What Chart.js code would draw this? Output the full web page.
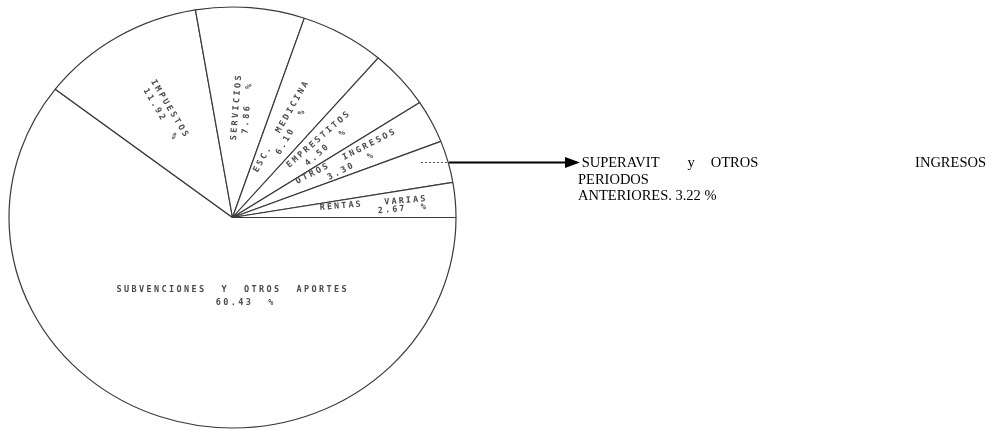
<!DOCTYPE html>
<html>
<head>
<meta charset="utf-8">
<script src="https://cdn.jsdelivr.net/npm/chart.js@4.4.0/dist/chart.umd.min.js"></script>
<style>
  html, body { margin: 0; padding: 0; background: #fff; }
  #wrap { position: relative; width: 992px; height: 432px; overflow: hidden; }
  #c { position: absolute; left: 0; top: 0; }
  #note {
    position: absolute; left: 578px; top: 155px; width: 408px;
    font-family: "Liberation Serif", "Times New Roman", serif;
    font-size: 14.5px; line-height: 16.5px; color: #000;
  }
  #note .l1 { display: flex; justify-content: space-between; }
  #note .gap1 { display: inline-block; width: 28px; }
  #note .gap2 { display: inline-block; width: 16px; }
</style>
</head>
<body>
<div id="wrap">
  <canvas id="c" width="992" height="432"></canvas>
  <div id="note"></div>
</div>
<script>
// Sources of income, clockwise from 3 o'clock
const categories = [
  'SUBVENCIONES Y OTROS APORTES',
  'IMPUESTOS',
  'SERVICIOS',
  'ESC. MEDICINA',
  'EMPRESTITOS',
  'OTROS INGRESOS',
  'SUPERAVIT y OTROS INGRESOS PERIODOS ANTERIORES',
  'RENTAS VARIAS'
];
const shares = [60.43, 11.92, 7.86, 6.10, 4.50, 3.30, 3.22, 2.67];

// Label placement: fraction of the radius along each slice's middle
const labelDist = [0.375, 0.59, 0.52, 0.48, 0.53, 0.58, null, 0.63];
const calloutIndex = 6;               // slice described outside the pie

const RX = 223.5, RY = 210.5;         // the disc is drawn slightly flattened
const pct = v => v.toFixed(2) + ' %';

// Squash the pie vertically around its centre
const ellipsePlugin = {
  id: 'ellipse',
  beforeDatasetsDraw(chart) {
    const a = chart.getDatasetMeta(0).data[0];
    const ctx = chart.ctx;
    ctx.save();
    ctx.translate(a.x, a.y);
    ctx.scale(1, RY / RX);
    ctx.translate(-a.x, -a.y);
  },
  afterDatasetsDraw(chart) { chart.ctx.restore(); }
};

function spacedText(ctx, text, x, y, adv, align) {
  const w = text.length * adv;
  let start = align === 'right' ? x - w : x - w / 2;
  for (let i = 0; i < text.length; i++) {
    ctx.fillText(text[i], start + adv * (i + 0.5), y);
  }
}

const labelPlugin = {
  id: 'sliceLabels',
  afterDraw(chart) {
    const ctx = chart.ctx;
    const arcs = chart.getDatasetMeta(0).data;
    const cx = arcs[0].x, cy = arcs[0].y;
    ctx.save();
    ctx.fillStyle = '#4a4a4a';
    ctx.font = 'bold 8.5px "DejaVu Sans Mono", monospace';
    ctx.textAlign = 'center';
    ctx.textBaseline = 'middle';

    arcs.forEach((arc, i) => {
      if (i === calloutIndex) return;
      const sweep = arc.endAngle - arc.startAngle;
      const mid = (arc.startAngle + arc.endAngle) / 2;
      const name = categories[i].replace(/ /g, i === arcs.length - 1 ? '   ' : '  ');
      const p = pct(shares[i]).replace(' ', '  ');
      ctx.save();
      if (sweep > Math.PI) {
        // the large slice carries a horizontal label below the centre
        ctx.translate(cx, cy + labelDist[i] * RY);
        spacedText(ctx, name, -1, -6.5, 7.5);
        spacedText(ctx, p, 12, 6.5, 7.5);
      } else {
        const x = cx + Math.cos(mid) * labelDist[i] * RX;
        const y = cy + Math.sin(mid) * labelDist[i] * RY;
        let rot = mid;
        if (Math.cos(mid) < 0) rot += Math.PI;
        ctx.translate(x, y);
        ctx.rotate(rot);
        if (i === arcs.length - 1) {
          const w = name.length * 7.2;
          spacedText(ctx, name, 0, -3, 7.2);
          spacedText(ctx, p, w / 2, 5, 7.2, 'right');
        } else {
          spacedText(ctx, name, 0, -5.5, 7.5);
          spacedText(ctx, p, 0, 5.5, 7.5);
        }
      }
      ctx.restore();
    });

    // Callout for the narrow slice: dotted stub, arrow and note
    const a = arcs[calloutIndex];
    const mid = (a.startAngle + a.endAngle) / 2;
    const ex = cx + Math.cos(mid) * RX;
    const ey = Math.round(cy + Math.sin(mid) * RY) + 0.5;
    ctx.strokeStyle = '#555';
    ctx.lineWidth = 1;
    ctx.setLineDash([2, 2]);
    ctx.beginPath();
    ctx.moveTo(ex - 27, ey);
    ctx.lineTo(ex - 1, ey);
    ctx.stroke();
    ctx.setLineDash([]);
    ctx.strokeStyle = '#000';
    ctx.lineWidth = 2;
    ctx.beginPath();
    ctx.moveTo(ex + 1, ey);
    ctx.lineTo(567, ey);
    ctx.stroke();
    ctx.fillStyle = '#000';
    ctx.beginPath();
    ctx.moveTo(565, ey - 5.5);
    ctx.lineTo(580, ey);
    ctx.lineTo(565, ey + 5.5);
    ctx.closePath();
    ctx.fill();
    ctx.restore();

    const note = document.getElementById('note');
    note.style.top = (ey - 8.5) + 'px';
  }
};

// Note text next to the arrow
(function buildNote() {
  const words = categories[calloutIndex].split(' ');
  const note = document.getElementById('note');
  const l1 = document.createElement('div');
  l1.className = 'l1';
  const left = document.createElement('span');
  left.innerHTML = '&nbsp;' + words[0] + '<span class="gap1"></span>' + words[1] +
                   '<span class="gap2"></span>' + words[2];
  const right = document.createElement('span');
  right.textContent = words[3];
  l1.appendChild(left); l1.appendChild(right);
  const l2 = document.createElement('div');
  l2.textContent = words[4];
  const l3 = document.createElement('div');
  l3.textContent = words[5] + '. ' + pct(shares[calloutIndex]);
  note.appendChild(l1); note.appendChild(l2); note.appendChild(l3);
})();

new Chart(document.getElementById('c'), {
  type: 'pie',
  data: {
    labels: categories,
    datasets: [{
      data: shares,
      backgroundColor: '#ffffff',
      borderColor: '#3a3a3a',
      borderWidth: 1.2,
      hoverOffset: 0,
      clip: false
    }]
  },
  options: {
    responsive: false,
    animation: false,
    events: [],
    rotation: 90,
    radius: RX,
    layout: { padding: { left: 0, right: 527, top: 3, bottom: 0 } },
    plugins: { legend: { display: false }, tooltip: { enabled: false } }
  },
  plugins: [ellipsePlugin, labelPlugin]
});
</script>
</body>
</html>
